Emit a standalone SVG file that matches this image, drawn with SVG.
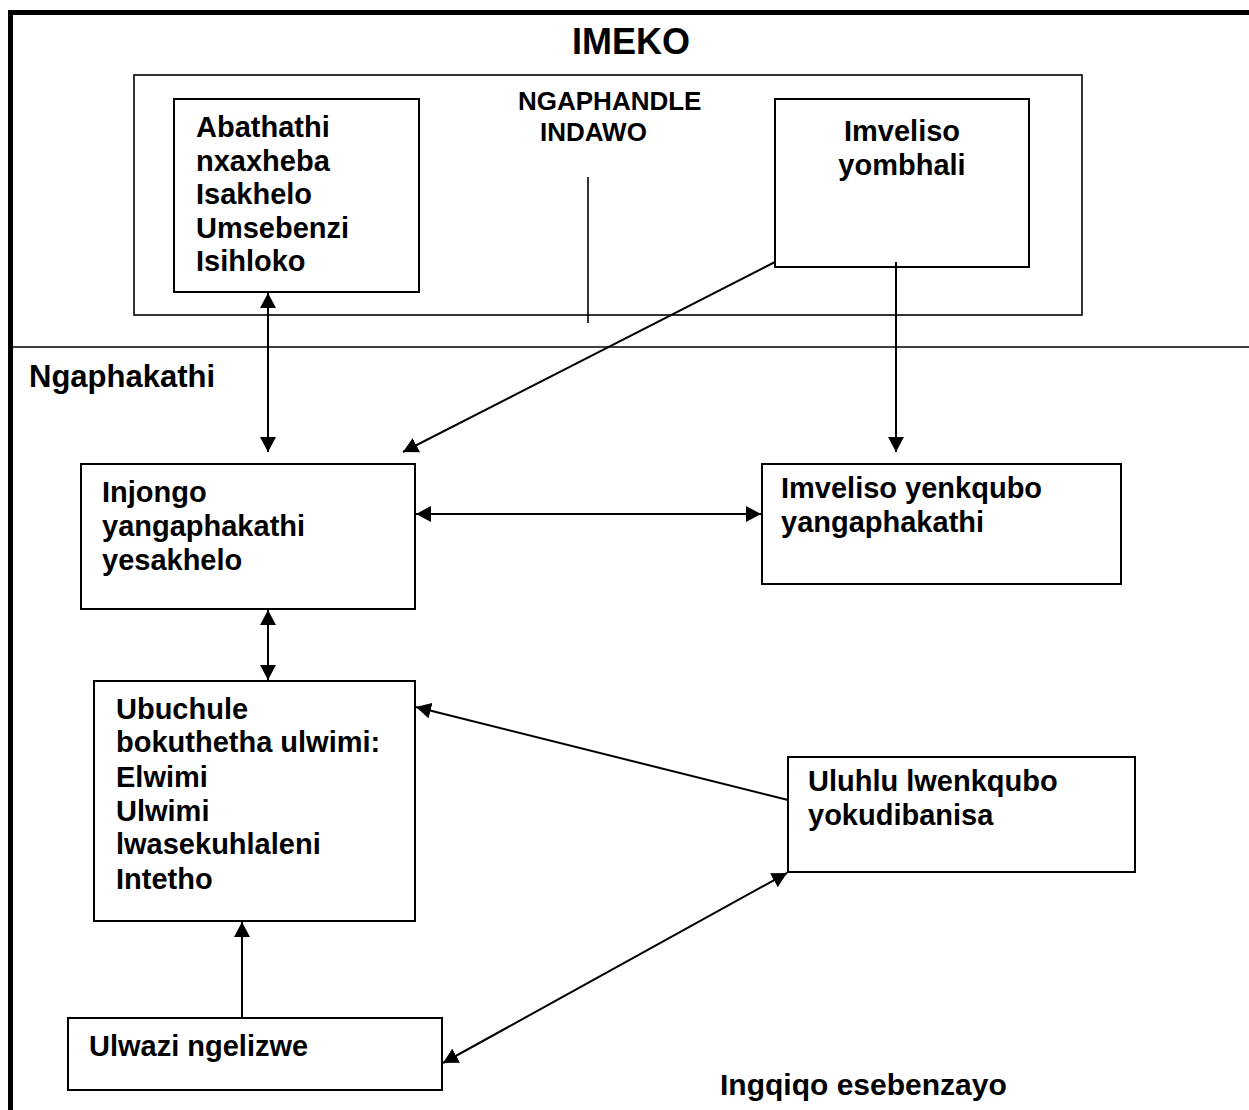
<svg xmlns="http://www.w3.org/2000/svg" width="1249" height="1110" viewBox="0 0 1249 1110">
<style>
text{font-family:"Liberation Sans",Arial,sans-serif;font-weight:bold;fill:#000}
.t{font-size:29px}
.box{fill:#fff;stroke:#000;stroke-width:2}
.thin{fill:none;stroke:#000;stroke-width:1.6}
.c{fill:none;stroke:#000;stroke-width:2}
</style>
<defs>
<marker id="ah" markerUnits="userSpaceOnUse" markerWidth="16" markerHeight="16" viewBox="0 0 16 16" refX="15" refY="8" orient="auto-start-reverse">
<path d="M0,0 L15,8 L0,16 z" fill="#000"/>
</marker>
</defs>
<rect width="1249" height="1110" fill="#fff"/>
<g id="frame">
<path d="M10.5,1110 V12.5 H1249" fill="none" stroke="#000" stroke-width="5"/>
<line x1="13" y1="347" x2="1249" y2="347" stroke="#000" stroke-width="1.6"/>
<text x="631" y="54" font-size="36" text-anchor="middle">IMEKO</text>
<text x="29" y="387" font-size="31">Ngaphakathi</text>
<text x="720" y="1095" font-size="30">Ingqiqo esebenzayo</text>
</g>
<g id="ngaphandle">
<rect class="thin" x="134" y="75" width="948" height="240"/>
<text x="518" y="110" font-size="26">NGAPHANDLE</text>
<text x="540" y="141" font-size="26">INDAWO</text>
<line x1="588" y1="177" x2="588" y2="323" stroke="#000" stroke-width="1.6"/>
</g>
<g id="abathathi">
<rect class="box" x="174" y="99" width="245" height="193"/>
<text class="t" x="196" y="137">Abathathi</text>
<text class="t" x="196" y="171">nxaxheba</text>
<text class="t" x="196" y="204">Isakhelo</text>
<text class="t" x="196" y="238">Umsebenzi</text>
<text class="t" x="196" y="271">Isihloko</text>
</g>
<g id="imveliso-yombhali">
<rect class="box" x="775" y="99" width="254" height="168"/>
<text class="t" x="902" y="141" text-anchor="middle">Imveliso</text>
<text class="t" x="902" y="175" text-anchor="middle">yombhali</text>
</g>
<g id="injongo">
<rect class="box" x="81" y="464" width="334" height="145"/>
<text class="t" x="102" y="502">Injongo</text>
<text class="t" x="102" y="536">yangaphakathi</text>
<text class="t" x="102" y="570">yesakhelo</text>
</g>
<g id="imveliso-yenkqubo">
<rect class="box" x="762" y="464" width="359" height="120"/>
<text class="t" x="781" y="498">Imveliso yenkqubo</text>
<text class="t" x="781" y="532">yangaphakathi</text>
</g>
<g id="ubuchule">
<rect class="box" x="94" y="681" width="321" height="240"/>
<text class="t" x="116" y="719">Ubuchule</text>
<text class="t" x="116" y="752">bokuthetha ulwimi:</text>
<text class="t" x="116" y="787">Elwimi</text>
<text class="t" x="116" y="821">Ulwimi</text>
<text class="t" x="116" y="854">lwasekuhlaleni</text>
<text class="t" x="116" y="889">Intetho</text>
</g>
<g id="uluhlu">
<rect class="box" x="788" y="757" width="347" height="115"/>
<text class="t" x="808" y="791">Uluhlu lwenkqubo</text>
<text class="t" x="808" y="825">yokudibanisa</text>
</g>
<g id="ulwazi">
<rect class="box" x="68" y="1018" width="374" height="72"/>
<text class="t" x="89" y="1056">Ulwazi ngelizwe</text>
</g>
<g id="connectors">
<line class="c" x1="268" y1="293" x2="268" y2="452" marker-start="url(#ah)" marker-end="url(#ah)"/>
<line class="c" x1="775" y1="262" x2="403" y2="452" marker-end="url(#ah)"/>
<line class="c" x1="896" y1="262" x2="896" y2="452" marker-end="url(#ah)"/>
<line class="c" x1="416" y1="514" x2="761" y2="514" marker-start="url(#ah)" marker-end="url(#ah)"/>
<line class="c" x1="268" y1="610" x2="268" y2="680" marker-start="url(#ah)" marker-end="url(#ah)"/>
<line class="c" x1="788" y1="800" x2="416" y2="707" marker-end="url(#ah)"/>
<line class="c" x1="242" y1="1018" x2="242" y2="922" marker-end="url(#ah)"/>
<line class="c" x1="443" y1="1063" x2="787" y2="873" marker-start="url(#ah)" marker-end="url(#ah)"/>
</g>
</svg>
